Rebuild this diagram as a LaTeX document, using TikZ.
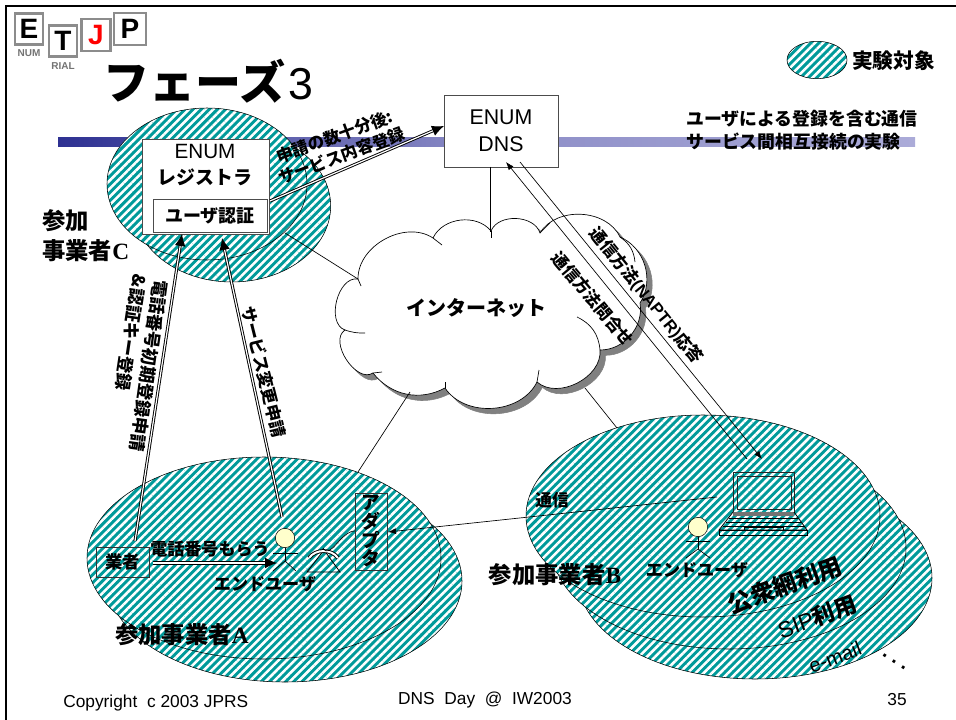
\documentclass[tikz,border=0pt]{standalone}
\usepackage{fontspec}
\setmainfont{Liberation Sans}
\newfontfamily\jpfont{Noto Sans CJK JP}
\newfontfamily\latinserif{Liberation Serif}
\usetikzlibrary{shapes.geometric,patterns,patterns.meta,arrows.meta}
\definecolor{hatchteal}{HTML}{009A9A}
\definecolor{barblue}{HTML}{2E3192}
\definecolor{barpale}{HTML}{ABABD8}
\definecolor{headyellow}{HTML}{FFFFCC}
\newcommand{\jb}[1]{\fontsize{#1}{#1}\selectfont\jpfont\bfseries}
\newcommand{\cloudoutline}{
  (358,279) to[bend left=62] (433,238) to[bend left=58] (491,231) to[bend left=70] (540,233)
  to[bend left=62] (620,237) to[bend left=50] (640,303) to[bend left=50] (600,350)
  to[bend left=68] (537,382) to[bend left=60] (445,388) to[bend left=40] (373,373)
  to[bend left=90] (345,330) to[bend left=85] (358,279) -- cycle}

\begin{document}
\begin{tikzpicture}[
    x=0.75pt, y=-0.75pt,
    every node/.style={inner sep=0pt, align=center},
    hatch/.style={preaction={fill=hatchteal}, pattern={Lines[angle=45, distance=4.3pt, line width=1.9pt]}, pattern color=white},
    party/.style={ellipse, draw, hatch, thin, minimum width=265.5pt, minimum height=151.5pt},
    registry/.style={ellipse, draw, hatch, thin, minimum width=148pt, minimum height=114pt},
    whitebox/.style={rectangle, draw=black!70, fill=white, thin},
    plainbox/.style={rectangle, draw=black!80, thin},
    tile/.style={rectangle, draw=black!45, line width=1.8pt, fill=white, font=\bfseries\fontsize{21}{21}\selectfont},
    feed/.style={draw, double, double distance=0.9pt, line width=0.7pt, -{Latex[length=9pt, width=8pt]}},
    thinline/.style={draw, line width=0.5pt},
    query/.style={draw, line width=0.5pt, -{Latex[length=6pt, width=4.5pt]}},
    head/.style={circle, draw, fill=headyellow, thin, minimum size=14.5pt}
  ]
  \useasboundingbox (0,0) rectangle (956,720);

  % slide frame and bar
  \draw [line width=2pt] (6,720) -- (6,6) -- (956,6);
  \shade [left color=barblue, right color=barpale, middle color=barpale!75!barblue] (58,138) rectangle (915,147);

  % logo
  \node (logo_num) [font=\bfseries\fontsize{7.5}{7.5}\selectfont, text=black!55] at (29,53) {NUM};
  \node (logo_rial) [font=\bfseries\fontsize{7.5}{7.5}\selectfont, text=black!55] at (63,66) {RIAL};
  \node (logo_e) [tile, minimum width=21pt, minimum height=23pt] at (29,29) {E};
  \node (logo_t) [tile, minimum width=21pt, minimum height=23pt] at (63,41) {T};
  \node (logo_j) [tile, minimum width=22pt, minimum height=24pt, text=red] at (96,35) {J};
  \node (logo_p) [tile, minimum width=24pt, minimum height=24pt] at (130,29) {P};

  \node (title) [anchor=west, font=\fontsize{33.5}{33.5}\selectfont] at (103,81) {{\jpfont\bfseries\fontsize{34.5}{34.5}\selectfont フェーズ}\hspace{3pt}3};

  % legend
  \node (legend) [ellipse, draw, hatch, thin, minimum width=45pt, minimum height=28pt] at (817,60) {};
  \node (legend_text) [anchor=west, font=\jb{15.5}] at (852,61) {実験対象};
  \node (goal_text) [anchor=west, align=left, font=\jb{13.4}] at (686,130) {ユーザによる登録を含む通信\\[4pt]サービス間相互接続の実験};

  % participant C
  \node (c_back) [registry] at (232,206) {};
  \node (c_front) [ellipse, draw, hatch, thin, minimum width=150pt, minimum height=114pt] at (207,184) {};
  \node (registrar) [whitebox, minimum width=95pt, minimum height=71pt] at (205.5,186.5) {};
  \node (registrar_text) [font=\fontsize{15.5}{18}\selectfont] at (205,165) {ENUM\\[1pt]{\jpfont\bfseries\fontsize{14.2}{18}\selectfont レジストラ}};
  \node (auth) [whitebox, minimum width=85.5pt, minimum height=25pt, font=\jb{13.5}] at (210,216) {ユーザ認証};
  \node (c_label) [anchor=west, align=left, font=\jb{17.5}] at (42,236) {参加\\[5pt]事業者{\latinserif C}};

  \node (dns) [whitebox, minimum width=85.5pt, minimum height=54pt, font=\fontsize{16}{20}\selectfont] at (501,131) {ENUM\\DNS};

  % cloud
  \draw [fill=black!50, draw=black!50, xshift=4pt, yshift=-4pt] \cloudoutline;
  \draw [fill=white, line width=0.5pt] \cloudoutline;
  \node (internet) [font=\jb{15}] at (476,308) {インターネット};
  \coordinate (cl_a) at (358,279); \coordinate (cl_b) at (433,238);
  \coordinate (cl_c) at (491,231); \coordinate (cl_d) at (540,233);
  \coordinate (cl_e) at (620,237); \coordinate (cl_g) at (600,350);
  \coordinate (cl_h) at (537,382); \coordinate (cl_i) at (445,388);
  \coordinate (cl_j) at (373,373); \coordinate (cl_k) at (345,330);
  \draw [line width=0.5pt] (cl_a) -- +(3,7);
  \draw [line width=0.5pt] (cl_b) -- +(9,7);
  \draw [line width=0.5pt] (cl_c) -- +(0,7);
  \draw [line width=0.5pt] (cl_d) -- +(10,-10);
  \draw [line width=0.5pt] (cl_e) to[bend left=25] +(15,25);
  \draw [line width=0.5pt] (577,317) to[bend left=30] (cl_g);
  \draw [line width=0.5pt] (cl_h) -- +(2,-12);
  \draw [line width=0.5pt] (cl_i) -- +(0,-6);
  \draw [line width=0.5pt] (cl_j) -- +(9,-1);
  \draw [line width=0.5pt] (cl_k) to[bend right=10] +(20,3);

  % participant A
  \node (a_back) [party] at (285,581) {};
  \node (a_front) [party] at (264,558) {};
  \node (vendor) [plainbox, minimum width=40pt, minimum height=22.5pt, font=\jb{13}] at (122.5,562) {業者};
  \node (adapter) [plainbox, minimum width=24pt, minimum height=58pt, font=\jb{14}, align=center] at (371,531.5) {\baselineskip=16pt ア\\ダ\\プ\\タ};
  \node (phone_no) [font=\jb{12.8}] at (210,549) {電話番号もらう};
  \node (user_a_text) [font=\jb{12.8}] at (265,584) {エンドユーザ};
  \node (a_label) [font=\jb{17.5}] at (182,635) {参加事業者{\latinserif A}};

  % end user at A
  \node (head_a) [head] at (285,538) {};
  \coordinate (hip_a) at (285,561);
  \draw [line width=0.5pt] (head_a) -- (hip_a);
  \draw [line width=0.5pt] (273,553) -- (298,553);
  \draw [line width=0.5pt] (273,571) -- (hip_a) -- (296,571);
  % telephone
  \draw [line width=0.6pt] (307,572) -- (340,572) -- (324,550) -- cycle;
  \draw [line width=0.7pt, double, double distance=1.5pt] (309,558) to[bend left=55] (338,558);
  \draw [line width=0.5pt] (323,548) to[out=-60, in=180, looseness=1] (355,531);

  % participant B
  \node (b_third) [party] at (755,578) {};
  \node (b_second) [party] at (729,548) {};
  \node (b_front) [party] at (703,516) {};
  \node (isp_text) [rotate=20, font=\jb{18}] at (785,585) {公衆網利用};
  \node (sip_text) [rotate=20, font=\fontsize{17}{17}\selectfont] at (817,617) {SIP{\jpfont\bfseries 利用}};
  \node (mail_text) [rotate=21, font=\fontsize{15}{15}\selectfont] at (835,657) {e-mail};
  \node (dots) [rotate=-33, font=\bfseries\fontsize{15}{15}\selectfont] at (894,662) {.\hspace{4pt}.\hspace{4pt}.};
  \node (comm_text) [font=\jb{12.5}] at (552,500) {通信};
  \node (b_label) [font=\jb{17.5}] at (555,575) {参加事業者{\latinserif B}};
  \node (user_b_text) [font=\jb{12.8}] at (697,570) {エンドユーザ};

  % end user at B
  \node (head_b) [head] at (698,527) {};
  \coordinate (hip_b) at (698,549);
  \draw [line width=0.5pt] (head_b) -- (hip_b);
  \draw [line width=0.5pt] (686,541) -- (710,541);
  \draw [line width=0.5pt] (686,558) -- (hip_b) -- (710,558);

  % laptop
  \draw [black!85, line width=0.6pt] (733,472) rectangle (794,512);
  \draw [black!85, line width=0.6pt] (737,476) rectangle (791,509);
  \fill [black!55] (733,512) rectangle (794,516);
  \draw [line width=0.6pt] (733,512) -- (719,530) -- (807,530) -- (794,512);
  \draw [line width=0.6pt] (719,530) rectangle (807,535);
  \draw [line width=0.6pt] (729,518) -- (798,518);
  \draw [line width=0.6pt] (726,522) -- (801,522);
  \draw [line width=0.6pt] (723,526) -- (804,526);
  \draw [line width=0.6pt] (744,527) rectangle (783,530);

  % connectors
  \coordinate (reg_net) at (285,233);
  \coordinate (dns_net) at (490,167);
  \coordinate (net_dns) at (490,232);
  \coordinate (net_a) at (410,392);
  \coordinate (a_net) at (358,472);
  \coordinate (net_b) at (585,388);
  \coordinate (b_net) at (617,428);
  \draw [thinline] (reg_net) -- (cl_a);
  \draw [thinline] (dns_net) -- (net_dns);
  \draw [thinline] (net_a) -- (a_net);
  \draw [thinline] (net_b) -- (b_net);

  \coordinate (reg_out) at (270,201);
  \coordinate (dns_in) at (444,126);
  \draw [feed] (reg_out) -- (dns_in);
  \coordinate (vendor_up) at (135,541);
  \coordinate (auth_in_l) at (182,234);
  \draw [feed] (vendor_up) -- (auth_in_l);
  \coordinate (user_up) at (282,517);
  \coordinate (auth_in_r) at (222,238);
  \draw [feed] (user_up) -- (auth_in_r);
  \coordinate (vendor_out) at (153,563);
  \coordinate (user_in) at (277,563);
  \draw [feed] (vendor_out) -- (user_in);

  \coordinate (pc_up) at (747,459);
  \coordinate (dns_tip) at (506,162);
  \draw [query] (pc_up) -- (dns_tip);
  \coordinate (dns_out) at (520,162);
  \coordinate (pc_in) at (762,459);
  \draw [query] (dns_out) -- (pc_in);
  \coordinate (pc_line) at (717,497);
  \coordinate (adapter_in) at (388,532);
  \draw [query] (pc_line) -- (adapter_in);

  % arrow labels
  \node (later_text) [rotate=20, font=\jb{12.5}, align=center] at (338,146) {申請の数十分後:\\[3pt]サービス内容登録};
  \node (first_text) [rotate=-98, font=\jb{13}] at (149,366) {電話番号初期登録申請};
  \node (key_text) [rotate=-98.5, font=\jb{13}] at (131,333) {\&認証キー登録};
  \node (change_text) [rotate=-76, font=\jb{12.6}] at (264,372) {サービス変更申請};
  \node (answer_text) [rotate=-51, font=\jb{12.5}] at (646,296) {通信方法{\fontspec{Liberation Sans}(NAPTR)}応答};
  \node (ask_text) [rotate=-50, font=\jb{12.5}] at (593,299) {通信方法問合せ};

  % footer
  \node (copy_text) [anchor=west, font=\fontsize{13}{13}\selectfont] at (63,703) {Copyright\ \ c 2003 JPRS};
  \node (day_text) [font=\fontsize{13}{13}\selectfont] at (485,700) {DNS\ \ Day\ \ @\ \ IW2003};
  \node (page_no) [font=\fontsize{13}{13}\selectfont] at (897,700) {35};
\end{tikzpicture}
\end{document}
